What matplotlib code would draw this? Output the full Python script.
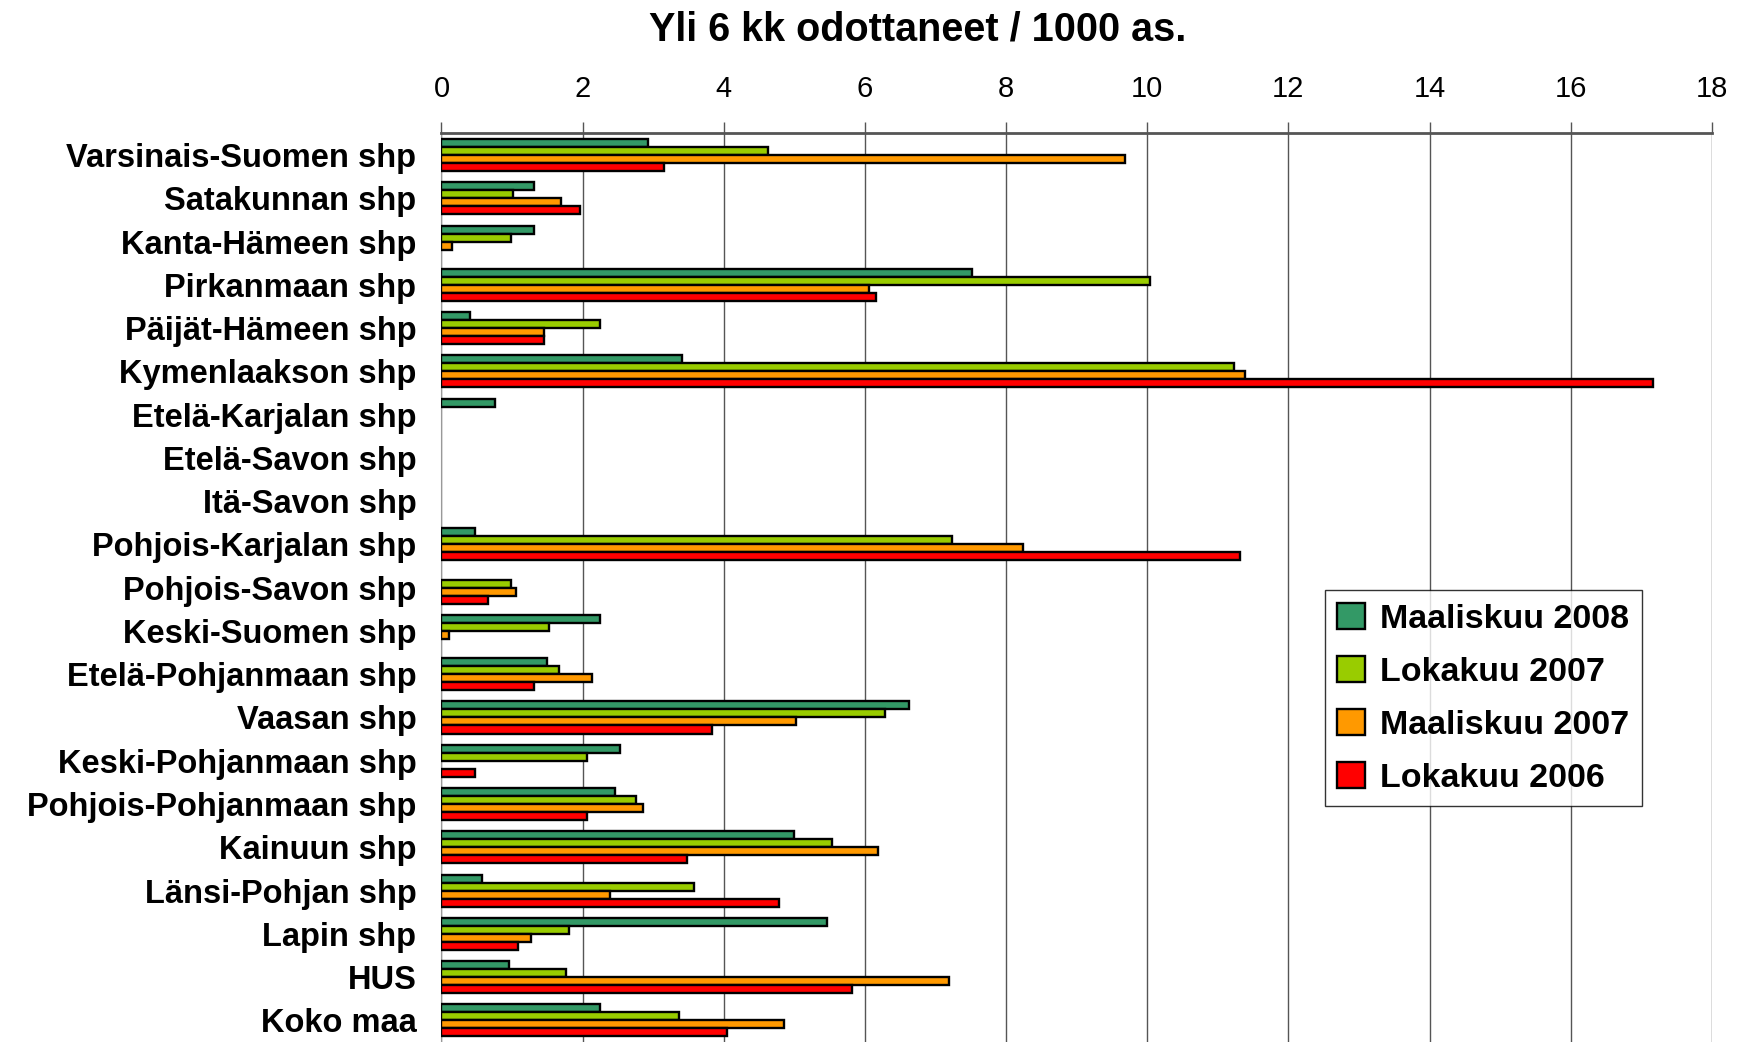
import numpy as np
import matplotlib
matplotlib.use('Agg')
import matplotlib.pyplot as plt

plt.rcParams['font.family'] = ['Liberation Sans', 'DejaVu Sans']

# Categories (top to bottom) and series values
regions = ['Varsinais-Suomen shp', 'Satakunnan shp', 'Kanta-Hämeen shp', 'Pirkanmaan shp',
           'Päijät-Hämeen shp', 'Kymenlaakson shp', 'Etelä-Karjalan shp', 'Etelä-Savon shp',
           'Itä-Savon shp', 'Pohjois-Karjalan shp', 'Pohjois-Savon shp', 'Keski-Suomen shp',
           'Etelä-Pohjanmaan shp', 'Vaasan shp', 'Keski-Pohjanmaan shp',
           'Pohjois-Pohjanmaan shp', 'Kainuun shp', 'Länsi-Pohjan shp', 'Lapin shp', 'HUS',
           'Koko maa']

maalis_2008 = [2.93, 1.31, 1.31, 7.52, 0.41, 3.41, 0.76, 0, 0, 0.48, 0, 2.25,
               1.49, 6.62, 2.53, 2.46, 4.99, 0.58, 5.46, 0.95, 2.24]
loka_2007 = [4.62, 1.01, 0.98, 10.04, 2.25, 11.23, 0, 0, 0, 7.23, 0.98, 1.52,
             1.67, 6.29, 2.06, 2.75, 5.53, 3.58, 1.81, 1.77, 3.36]
maalis_2007 = [9.68, 1.70, 0.15, 6.06, 1.45, 11.38, 0, 0, 0, 8.24, 1.05, 0.11,
               2.14, 5.03, 0, 2.86, 6.18, 2.39, 1.27, 7.19, 4.85]
loka_2006 = [3.15, 1.96, 0, 6.15, 1.45, 17.16, 0, 0, 0, 11.32, 0.66, 0,
             1.31, 3.83, 0.48, 2.06, 3.48, 4.78, 1.09, 5.82, 4.05]

series = [('Maaliskuu 2008', maalis_2008, '#339966'),
          ('Lokakuu 2007', loka_2007, '#99CC00'),
          ('Maaliskuu 2007', maalis_2007, '#FF9900'),
          ('Lokakuu 2006', loka_2006, '#FF0000')]

fig = plt.figure(figsize=(17.38, 10.42), dpi=100)
ax = fig.add_axes([0.254, 0.0, 0.731, 0.872])

y = np.arange(len(regions))
h = 0.185
for i, (name, vals, col) in enumerate(series):
    # no outline for empty bars (Excel draws nothing there)
    edges = ['black' if v > 0 else 'none' for v in vals]
    ax.barh(y + (i - 1.5) * h, vals, height=h, color=col, edgecolor=edges,
            linewidth=1.7, label=name, zorder=3)

ax.set_ylim(len(regions) - 0.5, -0.5)
ax.set_xlim(0, 18)
ax.set_xticks(range(0, 19, 2))
ax.xaxis.tick_top()
ax.tick_params(axis='x', direction='out', length=8, width=1, labelsize=21, pad=14,
               color='#555555')
ax.set_yticks(y)
ax.set_yticklabels(regions, fontsize=23.5, fontweight='bold')
ax.tick_params(axis='y', length=0, pad=18)
ax.grid(axis='x', color='#555555', linewidth=1, zorder=0)

for s in ['right', 'bottom']:
    ax.spines[s].set_visible(False)
ax.spines['top'].set_color('#555555')
ax.spines['top'].set_linewidth(2)
ax.spines['left'].set_color('#999999')

fig.text(0.528, 0.972, 'Yli 6 kk odottaneet / 1000 as.', fontsize=28.5,
         fontweight='bold', ha='center', va='center')

leg = ax.legend(loc='upper right', bbox_to_anchor=(0.945, 0.4975), borderaxespad=0,
                prop={'weight': 'bold', 'size': 24.5}, frameon=True, fancybox=False,
                edgecolor='black', handlelength=0.8, handleheight=0.8,
                handletextpad=0.45, labelspacing=0.62, borderpad=0.38)
leg.get_frame().set_linewidth(1)

fig.savefig('out.png', dpi=100)
